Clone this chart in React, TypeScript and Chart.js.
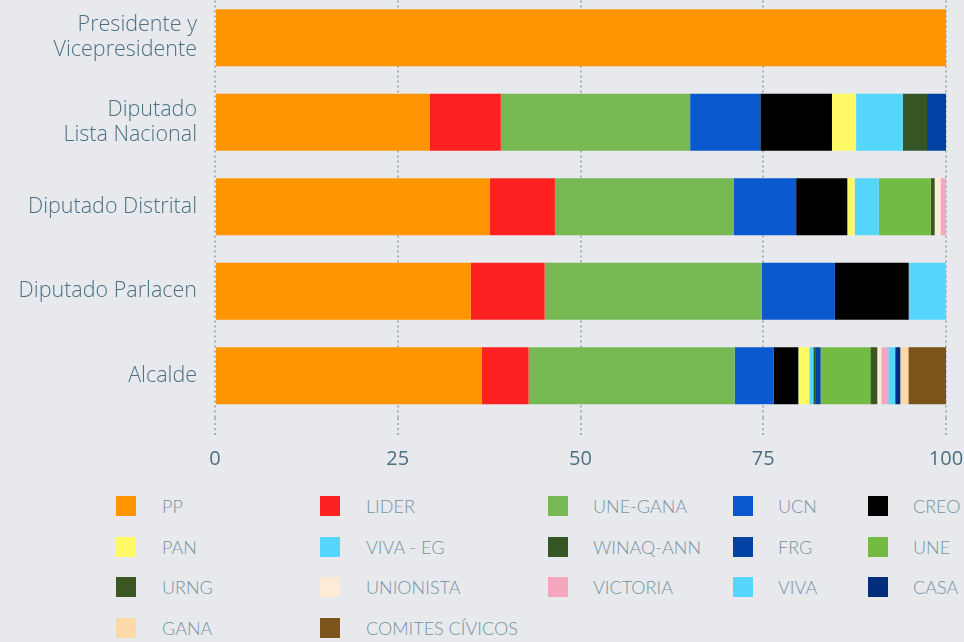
import React, { useEffect, useRef } from "react";
import { Chart, registerables } from "chart.js";

Chart.register(...registerables);

const categories: (string | string[])[] = [
  ["Presidente y", "Vicepresidente"],
  ["Diputado", "Lista Nacional"],
  "Diputado Distrital",
  "Diputado Parlacen",
  "Alcalde",
];

const parties = [
  "PP", "LIDER", "UNE-GANA", "UCN", "CREO",
  "PAN", "VIVA - EG", "WINAQ-ANN", "FRG", "UNE",
  "URNG", "UNIONISTA", "VICTORIA", "VIVA", "CASA",
  "GANA", "COMITES CÍVICOS",
];

const partyColors = [
  "#FF9500", "#FF2121", "#76B852", "#0A59CF", "#000000",
  "#FFFA66", "#55D6FC", "#365525", "#0043A5", "#74BB43",
  "#3A5623", "#FEEBD6", "#F4A6BF", "#55D6FC", "#002E7C",
  "#FFD8A8", "#7A541A",
];

const PP = [100, 29.4, 37.6, 35.0, 36.5];
const LIDER = [0, 9.7, 8.9, 10.1, 6.4];
const UNE_GANA = [0, 25.9, 24.5, 29.7, 28.2];
const UCN = [0, 9.6, 8.5, 10.0, 5.3];
const CREO = [0, 9.8, 7.0, 10.1, 3.4];
const PAN = [0, 3.3, 1.0, 0, 1.5];
const VIVA_EG = [0, 6.4, 3.3, 5.3, 0.55];
const WINAQ_ANN = [0, 3.3, 0, 0, 0.25];
const FRG = [0, 3.3, 0, 0, 0.75];
const UNE = [0, 0, 7.1, 0, 6.8];
const URNG = [0, 0, 0.55, 0, 0.95];
const UNIONISTA = [0, 0, 0.8, 0, 0.55];
const VICTORIA = [0, 0, 1.1, 0, 0.95];
const VIVA = [0, 0, 0, 0, 0.95];
const CASA = [0, 0, 0, 0, 0.7];
const GANA = [0, 0, 0, 0, 1.1];
const COMITES = [0, 0, 0, 0, 5.3];

const series = [
  PP, LIDER, UNE_GANA, UCN, CREO, PAN, VIVA_EG, WINAQ_ANN, FRG, UNE,
  URNG, UNIONISTA, VICTORIA, VIVA, CASA, GANA, COMITES,
];

const xTicks = [0, 25, 50, 75, 100];

const BG = "#E7E9ED";
const GRID = "#A7B1BB";
const LABEL = "#4C7082";
const LEGEND_TEXT = "#7693A2";
const AXIS_FONT = "'Open Sans', Lato, sans-serif";
const LEGEND_FONT = "Lato, 'Open Sans', sans-serif";

export default function App() {
  const ref = useRef<HTMLCanvasElement>(null);

  useEffect(() => {
    document.body.style.margin = "0";
    document.body.style.background = BG;
    const chart = new Chart(ref.current!, {
      type: "bar",
      data: {
        labels: categories,
        datasets: parties.map((p, i) => ({
          label: p,
          data: series[i],
          backgroundColor: partyColors[i],
          borderWidth: 0,
          barPercentage: 0.675,
          categoryPercentage: 1,
        })),
      },
      options: {
        indexAxis: "y",
        animation: false,
        responsive: false,
        layout: { padding: { top: 5.5, right: 18, left: 0, bottom: 0 } },
        plugins: { legend: { display: false }, tooltip: { enabled: false } },
        scales: {
          x: {
            type: "linear",
            stacked: true,
            min: 0,
            max: 100,
            afterBuildTicks: (s: any) => {
              s.ticks = xTicks.map((v) => ({ value: v }));
            },
            afterFit: (s: any) => {
              s.height = 72;
              s.paddingLeft = 0;
              s.paddingRight = 0;
            },
            ticks: {
              color: LABEL,
              font: { family: AXIS_FONT, size: 20, weight: "400" },
              padding: 10,
              maxRotation: 0,
            },
            grid: {
              color: GRID,
              lineWidth: 2,
              drawTicks: true,
              tickLength: 19,
              tickColor: GRID,
              tickWidth: 2,
              tickBorderDash: [2, 3],
              borderDash: [2, 3],
            } as any,
            border: { display: false, dash: [2, 3] },
          },
          y: {
            type: "category",
            stacked: true,
            afterFit: (s: any) => {
              s.width = 215;
              s.paddingTop = 0;
              s.paddingBottom = 0;
            },
            ticks: {
              color: LABEL,
              font: { family: AXIS_FONT, size: 21.5, lineHeight: 25 / 21.5, weight: "300" },
              padding: 18,
            },
            grid: { display: false, drawTicks: false },
            border: { display: false },
          },
        },
      },
    });
    return () => chart.destroy();
  }, []);

  const boxX = [116, 320, 548, 733, 868];
  const textX = [162, 366, 593, 778, 913];
  const rowY = [496, 537, 577, 618];

  return (
    <div
      style={{
        position: "relative",
        width: 964,
        height: 642,
        background: BG,
        overflow: "hidden",
      }}
    >
      <div style={{ position: "absolute", left: 0, top: -10, width: 964, height: 500 }}>
        <canvas ref={ref} width={964} height={500} style={{ display: "block" }} />
      </div>
      {parties.map((p, i) => {
        const col = i % 5;
        const row = Math.floor(i / 5);
        return (
          <React.Fragment key={p}>
            <div
              style={{
                position: "absolute",
                left: boxX[col],
                top: rowY[row],
                width: 20,
                height: 20,
                background: partyColors[i],
              }}
            />
            <div
              style={{
                position: "absolute",
                left: textX[col],
                top: rowY[row] - 2,
                height: 24,
                lineHeight: "24px",
                fontFamily: LEGEND_FONT,
                fontSize: 18,
                fontWeight: 300,
                color: LEGEND_TEXT,
                whiteSpace: "nowrap",
              }}
            >
              {p}
            </div>
          </React.Fragment>
        );
      })}
    </div>
  );
}
